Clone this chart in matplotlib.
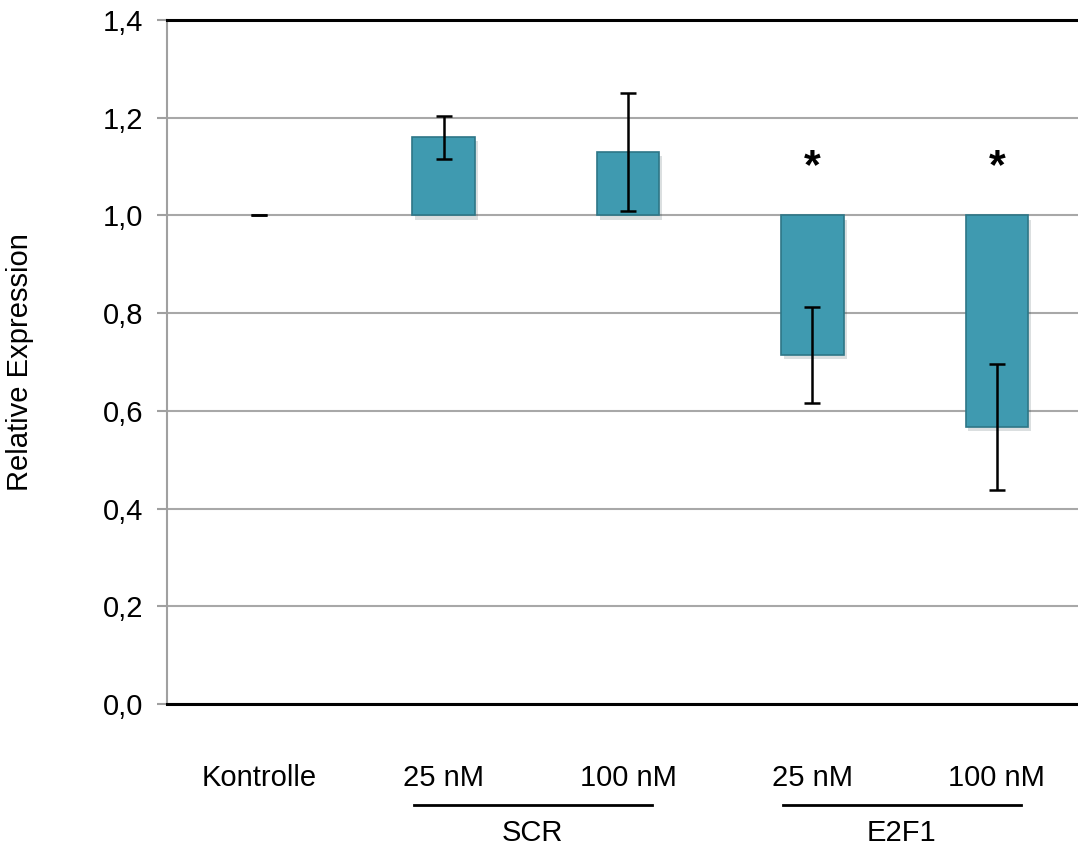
import matplotlib
matplotlib.use("Agg")
import matplotlib.pyplot as plt
import matplotlib.patheffects as pe
from matplotlib.ticker import FuncFormatter
import numpy as np

plt.rcParams['font.family'] = ['Liberation Sans', 'DejaVu Sans']

categories = ["Kontrolle", "25 nM", "100 nM", "25 nM", "100 nM"]
values = [1.0, 1.16, 1.13, 0.714, 0.567]
errors = [0.0, 0.044, 0.121, 0.098, 0.128]
significant = [False, False, False, True, True]
groups = ["SCR", "E2F1"]
group_members = [[1, 2], [3, 4]]
baseline = 1.0
yticks = [0.0, 0.2, 0.4, 0.6, 0.8, 1.0, 1.2, 1.4]

fig = plt.figure(figsize=(10.78, 8.48), dpi=100)
ax = fig.add_axes([0.155, 0.1698, 0.845, 0.8066])

x = np.arange(len(categories))
heights = [v - baseline for v in values]
bars = ax.bar(x, heights, bottom=baseline, width=0.34, color='#3f9ab0',
              edgecolor='#2e7687', linewidth=1.2, zorder=3)
for b, h in zip(bars, heights):
    if h == 0:
        b.set_visible(False)
    else:
        b.set_path_effects([pe.SimplePatchShadow(offset=(2, -3), alpha=0.15), pe.Normal()])

ax.errorbar(x, values, yerr=errors, fmt='none', ecolor='black', elinewidth=1.8,
            capsize=5.5, capthick=1.8, zorder=4)

for xi, v, e, s in zip(x, values, errors, significant):
    if s:
        ax.text(xi, 1.098, "*", ha='center', va='center', fontsize=31,
                fontweight='bold', zorder=5)

ax.set_xlim(-0.5, 4.44)
ax.set_ylim(0, 1.4)
ax.set_yticks(yticks)
ax.yaxis.set_major_formatter(FuncFormatter(lambda v, p: f"{v:.1f}".replace('.', ',')))
ax.set_xticks(x)
ax.set_xticklabels(categories, fontsize=21)
ax.tick_params(axis='x', length=0, pad=43)
ax.tick_params(axis='y', labelsize=21, length=7, width=1.5, color='#a0a0a0', pad=10)

ax.grid(axis='y', color='#a8a8a8', linewidth=1.5, zorder=0)
ax.set_axisbelow(True)
ax.spines['right'].set_visible(False)
ax.spines['top'].set_color('black')
ax.spines['top'].set_linewidth(2.2)
ax.spines['bottom'].set_color('black')
ax.spines['bottom'].set_linewidth(2.2)
ax.spines['left'].set_color('#a0a0a0')
ax.spines['left'].set_linewidth(1.5)

ax.set_ylabel("Relative Expression", fontsize=21, labelpad=50)

trans = ax.get_xaxis_transform()
for g, members in zip(groups, group_members):
    lo, hi = min(members), max(members)
    ax.plot([lo - 0.16, hi + 0.13], [-0.1477, -0.1477], transform=trans,
            color='black', linewidth=2, clip_on=False)
    ax.text((lo + hi) / 2 - 0.02, -0.188, g, transform=trans, ha='center',
            va='center', fontsize=21)

fig.savefig("out.png", dpi=100)
